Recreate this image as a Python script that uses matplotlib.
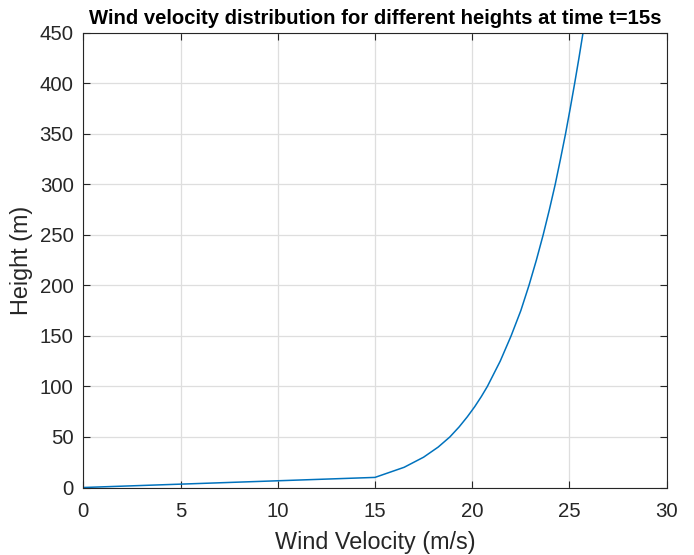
import numpy as np
import matplotlib.pyplot as plt

plt.rcParams['font.family'] = ['Liberation Sans', 'DejaVu Sans']

# wind velocity (m/s) at each height (m)
height = [0, 10, 20, 30, 40, 50, 60, 70, 80, 90, 100, 125, 150, 175,
          200, 225, 250, 275, 300, 325, 350, 375, 400, 425, 450]
velocity = [0, 15.0, 16.5, 17.5, 18.25, 18.85, 19.33, 19.75, 20.13, 20.47,
            20.78, 21.44, 22.0, 22.5, 22.92, 23.3, 23.65, 23.97, 24.27,
            24.54, 24.8, 25.04, 25.27, 25.49, 25.7]

xticks = [0, 5, 10, 15, 20, 25, 30]
yticks = [0, 50, 100, 150, 200, 250, 300, 350, 400, 450]

fig = plt.figure(figsize=(6.94, 5.55), dpi=100)
ax = fig.add_axes([0.12, 0.1216, 0.8406, 0.8195])

ax.plot(velocity, height, color='#0072BD', linewidth=1.1)

ax.set_xlim(0, 30)
ax.set_ylim(0, 450)
ax.set_xticks(xticks)
ax.set_yticks(yticks)
ax.grid(True, color='#dedede', linewidth=0.9)
ax.set_axisbelow(True)
ax.tick_params(direction='in', top=True, right=True, length=5,
               labelsize=14.7, colors='#262626', width=0.8)
ax.tick_params(axis='x', pad=10.5)
ax.tick_params(axis='y', pad=7)
for s in ax.spines.values():
    s.set_color('#262626')
    s.set_linewidth(0.8)

ax.set_xlabel('Wind Velocity (m/s)', fontsize=16.8, color='#262626', labelpad=7)
ax.set_ylabel('Height (m)', fontsize=16.8, color='#262626', labelpad=5)
ax.set_title('Wind velocity distribution for different heights at time t=15s',
             fontsize=14.6, fontweight='bold', pad=6)

fig.savefig('out.png', dpi=100)
